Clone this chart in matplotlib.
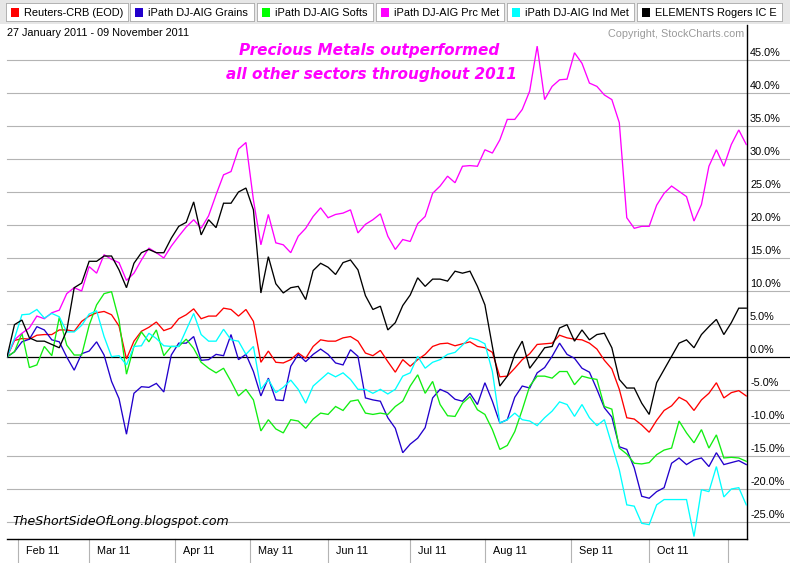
import numpy as np
import pandas as pd
import matplotlib
matplotlib.use('Agg')
import matplotlib.pyplot as plt
from matplotlib.patches import Rectangle
from matplotlib.lines import Line2D
import matplotlib.transforms as mtransforms

# ---------------- data ----------------
start_date, end_date = '2011-01-27', '2011-11-09'
holidays = ['2011-02-21', '2011-04-22', '2011-05-30', '2011-07-04', '2011-09-05']
series_names = ['Reuters-CRB (EOD)', 'iPath DJ-AIG Grains', 'iPath DJ-AIG Softs',
                'iPath DJ-AIG Prc Met', 'iPath DJ-AIG Ind Met', 'ELEMENTS Rogers IC E']
series_colors = ['#ff0000', '#2200cc', '#11ee11', '#ff00ff', '#00ffff', '#000000']
legend_colors = ['#ff0000', '#2200cc', '#00ff00', '#ff00ff', '#00ffff', '#000000']

# percent change, sampled every second trading day
crb = [0, 2.5, 2.8, 2.7, 3.3, 3.4, 3.4, 4.1, 4.1, 3.9,
       5.4, 6.2, 6.7, 6.9, 6.4, 4.7, -0.3, 2.4, 3.9, 4.5,
       5.3, 4.0, 4.4, 5.8, 6.4, 7.3, 5.8, 6.2, 6.2, 7.4,
       7.2, 6.2, 7.2, 5.4, -0.8, 0.9, -0.8, -0.9, -0.4, 0.6,
       -0.2, 1.6, 2.6, 2.4, 2.4, 2.9, 3.1, 2.4, 0.6, 0.2,
       1.0, -0.7, -2.3, -0.4, -1.4, -0.4, 0.4, 1.6, 2.0, 2.1,
       1.7, 2.0, 2.3, 1.6, 1.4, 0.7, -3.0, -2.9, -1.7, -0.4,
       0.5, 1.9, 2.0, 2.1, 3.3, 2.9, 2.7, 2.6, 2.1, 1.2,
       -0.5, -1.8, -4.9, -9.2, -9.4, -10.3, -11.4, -9.6, -8.1, -7.4,
       -6.1, -6.7, -8.1, -6.5, -5.5, -3.9, -6.2, -5.4, -5.1, -5.9]
grains = [0, 0.8, 2.3, 2.7, 4.6, 4.1, 2.6, 2.3, 0.0, -2.0,
          0.5, 0.9, 2.3, 0.3, -3.7, -6.3, -11.7, -5.5, -4.5, -4.6,
          -4.0, -5.3, 0.3, 2.1, 2.1, 3.1, -0.5, -0.4, 0.4, 0.2,
          3.4, -0.4, 0.4, -2.2, -5.9, -3.2, -6.5, -6.6, -1.4, 0.4,
          -0.7, 0.4, 1.2, 0.4, -0.9, -1.2, 1.1, 0.1, -6.2, -6.5,
          -6.7, -9.2, -10.8, -14.5, -13.2, -12.3, -10.7, -6.2, -4.9, -5.4,
          -6.4, -6.7, -5.5, -7.2, -3.9, -6.7, -10.0, -9.5, -6.1, -4.4,
          -4.7, -2.4, -1.6, 0.1, 2.1, 0.4, -0.2, -1.7, -2.3, -4.9,
          -7.7, -9.1, -13.6, -14.0, -16.8, -21.1, -21.4, -20.4, -19.8, -16.1,
          -15.3, -16.3, -15.6, -15.3, -16.6, -14.5, -16.3, -16.0, -15.7, -16.3]
softs = [0, 0.8, 3.6, -1.6, -1.2, 1.6, 0.2, 6.0, 1.8, 0.3,
         0.3, 4.8, 7.9, 9.6, 9.9, 5.6, -2.6, 1.6, 3.8, 2.3,
         4.1, 0.2, 1.6, 1.6, 2.7, 1.3, -0.8, -1.7, -2.4, -1.7,
         -3.7, -5.9, -4.9, -6.5, -11.2, -9.5, -10.9, -11.5, -9.5, -9.7,
         -10.8, -9.4, -8.5, -8.7, -7.5, -8.1, -6.7, -6.5, -8.5, -8.7,
         -8.5, -8.7, -7.5, -6.7, -4.4, -2.7, -5.5, -3.7, -7.2, -8.9,
         -9.0, -7.0, -6.0, -8.0, -8.7, -11.0, -14.0, -13.4, -11.3, -8.0,
         -4.4, -2.9, -2.9, -3.2, -2.2, -2.2, -4.2, -2.9, -3.2, -3.4,
         -7.5, -7.9, -13.8, -14.7, -16.1, -16.2, -16.0, -14.8, -14.1, -13.8,
         -9.7, -11.5, -13.0, -11.0, -13.8, -11.8, -15.3, -15.2, -15.3, -15.8]
prc_met = [0, 2.6, 3.6, 4.4, 6.2, 5.8, 6.7, 7.1, 9.6, 10.5,
           10.0, 13.7, 12.7, 15.5, 14.8, 14.3, 11.6, 12.7, 14.7, 16.5,
           15.8, 15.0, 16.8, 18.3, 19.7, 20.8, 19.5, 21.4, 24.6, 27.6,
           28.1, 31.5, 32.5, 23.8, 17.0, 21.6, 17.3, 17.0, 15.8, 18.3,
           19.5, 21.3, 22.6, 21.1, 21.6, 21.8, 22.3, 18.8, 20.1, 20.8,
           21.7, 18.3, 16.3, 17.8, 17.5, 20.2, 21.3, 24.8, 25.9, 27.4,
           26.4, 28.9, 29.0, 28.9, 31.4, 30.9, 32.9, 36.0, 36.0, 37.5,
           40.3, 47.1, 39.0, 41.0, 42.0, 42.1, 46.1, 44.5, 41.5, 41.0,
           39.7, 39.0, 35.5, 21.1, 19.5, 19.8, 19.8, 23.0, 24.8, 25.9,
           25.1, 24.3, 20.6, 23.1, 28.9, 31.4, 28.9, 32.2, 34.4, 32.2]
ind_met = [0, 2.8, 6.4, 6.5, 7.2, 5.9, 6.6, 6.1, 3.8, 3.8,
           4.8, 6.5, 7.0, 3.1, 0.05, 0.2, -1.2, 1.6, 1.7, 3.6,
           2.8, 1.7, 1.6, 1.6, 4.1, 6.6, 3.4, 2.4, 2.4, 4.2,
           2.6, 2.4, 0.4, 1.6, -4.9, -3.4, -5.4, -4.6, -3.5, -4.9,
           -7.0, -4.4, -3.4, -2.4, -3.0, -2.4, -3.4, -4.9, -4.9, -5.5,
           -4.9, -5.6, -4.9, -2.9, -2.4, 0.1, -1.7, -0.8, -0.4, 0.4,
           0.7, 1.8, 2.9, 2.6, 2.0, -2.2, -10.0, -9.5, -8.5, -9.5,
           -9.7, -10.4, -9.2, -8.2, -6.8, -7.2, -9.0, -7.2, -9.2, -10.4,
           -9.5, -13.3, -17.1, -22.4, -22.6, -25.2, -25.4, -22.4, -21.6, -21.6,
           -21.6, -21.6, -27.2, -20.1, -20.4, -16.6, -21.2, -20.0, -19.8, -22.4]
rogers = [0, 4.9, 5.6, 2.9, 2.4, 2.4, 1.9, 1.4, 4.0, 10.5,
          11.2, 14.5, 14.5, 15.3, 15.3, 13.2, 10.5, 14.2, 15.8, 16.3,
          15.8, 15.8, 18.0, 19.8, 20.4, 23.5, 18.5, 20.8, 19.6, 23.3,
          23.3, 25.0, 25.6, 22.3, 9.7, 15.2, 11.1, 9.7, 10.5, 10.7,
          8.7, 13.1, 14.2, 13.6, 12.5, 14.3, 14.7, 13.2, 9.3, 7.2,
          7.7, 4.1, 5.2, 7.8, 9.4, 12.0, 10.7, 11.8, 11.8, 11.5,
          13.0, 12.7, 13.0, 10.7, 7.9, 1.6, -4.4, -2.9, 0.4, 2.4,
          -1.7, -0.2, 1.4, 1.6, 4.4, 4.9, 2.4, 4.1, 2.6, 3.4,
          3.6, 1.4, -3.4, -4.7, -4.7, -7.0, -8.7, -3.9, -1.9, 0.1,
          2.1, 2.6, 1.4, 3.4, 4.6, 5.7, 3.4, 5.2, 7.4, 7.4]
all_series = [crb, grains, softs, prc_met, ind_met, rogers]

y_ticks = [-25, -20, -15, -10, -5, 0, 5, 10, 15, 20, 25, 30, 35, 40, 45]
date_range_text = '27 January 2011 - 09 November 2011'
copyright_text = 'Copyright, StockCharts.com'
title_lines = ['Precious Metals outperformed', 'all other sectors throughout 2011']
watermark = 'TheShortSideOfLong.blogspot.com'

# ---------------- trading calendar ----------------
days = pd.bdate_range(start_date, end_date)
days = days[~days.isin(pd.to_datetime(holidays))]
step = 2
xs = np.arange(len(crb)) * step
month_starts = [i for i in range(1, len(days)) if days[i].month != days[i - 1].month]

# ---------------- figure ----------------
W, H = 790, 563
fig = plt.figure(figsize=(W / 100, H / 100), dpi=100)
fig.patch.set_facecolor('white')
ui_font = 'Liberation Sans'


def fy(py):
    return 1 - py / H


# top strip
fig.patches.append(Rectangle((0, fy(24)), 1, 24 / H, transform=fig.transFigure,
                             facecolor='#e6e6e6', edgecolor='none', zorder=0))

# axes
ax_left, ax_right, ax_top, ax_bottom = 7, 747, 25, 539
ax = fig.add_axes([ax_left / W, (H - ax_bottom) / H, (ax_right - ax_left) / W,
                   (ax_bottom - ax_top) / H])
ax.set_facecolor('none')
px_per_pct = 6.6
zero_px = 357
ax.set_ylim((zero_px - ax_bottom) / px_per_pct, (zero_px - ax_top) / px_per_pct)
ax.set_xlim(0, 198.2)
for s in ['left', 'top']:
    ax.spines[s].set_visible(False)
ax.spines['right'].set_color('black')
ax.spines['bottom'].set_color('black')
ax.spines['right'].set_linewidth(1.0)
ax.spines['bottom'].set_linewidth(1.0)
ax.set_xticks([])
ax.set_yticks([])

ext = (W - ax_left) / (ax_right - ax_left)
for v in y_ticks:
    ax.axhline(v, xmin=0, xmax=ext, color='black' if v == 0 else '#b4b4b4',
               lw=0.9 if v == 0 else 0.8, clip_on=False, zorder=1 if v else 2)
    ax.annotate(f'{v:.1f}%', xy=(1, v), xycoords=('axes fraction', 'data'),
                xytext=(2.2, 1.2), textcoords='offset points', ha='left', va='bottom',
                fontsize=7.8, family=ui_font, color='black')

for vals, col in zip(all_series, series_colors):
    ax.plot(xs, vals, color=col, lw=0.95, zorder=3, solid_joinstyle='miter')

# month ticks
trans = mtransforms.blended_transform_factory(ax.transData, ax.transAxes)
tick_len = (H - ax_bottom) / (ax_bottom - ax_top)
for m in month_starts:
    ax.add_line(Line2D([m, m], [0, -tick_len], transform=trans, color='#b4b4b4',
                       lw=0.8, clip_on=False))
    if m + 8 < 198:
        ax.annotate(days[m].strftime('%b %y'), xy=(m, 0), xycoords=trans,
                    xytext=(5.8, -9), textcoords='offset points', ha='left', va='center',
                    fontsize=7.8, family=ui_font)

# texts
fig.text(7 / W, fy(33), date_range_text, ha='left', va='center', fontsize=7.8, family=ui_font)
fig.text(744 / W, fy(34), copyright_text, ha='right', va='center', fontsize=7.8,
         family=ui_font, color='#9a9a9a')
fig.text(369 / W, fy(50), title_lines[0], ha='center', va='center', fontsize=11,
         family='DejaVu Sans', style='oblique', weight='bold', color='#ff00ff')
fig.text(372 / W, fy(75), title_lines[1], ha='center', va='center', fontsize=11,
         family='DejaVu Sans', style='oblique', weight='bold', color='#ff00ff')
fig.text(12 / W, fy(522), watermark, ha='left', va='center', fontsize=9,
         family='DejaVu Sans', style='oblique', color='black')

# legend buttons
boxes = [(6, 128), (130, 254), (257, 373), (376, 504), (507, 634), (637, 782)]
for (x0, x1), name, col in zip(boxes, series_names, legend_colors):
    fig.patches.append(Rectangle((x0 / W, fy(22)), (x1 - x0 + 1) / W, 19 / H,
                                 transform=fig.transFigure, facecolor='#8a8a8a',
                                 edgecolor='none', zorder=1))
    fig.patches.append(Rectangle((x0 / W, fy(21)), (x1 - x0) / W, 18 / H,
                                 transform=fig.transFigure, facecolor='white',
                                 edgecolor='#b0b0b0', lw=0.6, zorder=2))
    fig.patches.append(Rectangle(((x0 + 5) / W, fy(16.5)), 8 / W, 8 / H,
                                 transform=fig.transFigure, facecolor=col,
                                 edgecolor='none', zorder=3))
    fig.text((x0 + 18) / W, fy(12.5), name, ha='left', va='center', fontsize=7.9,
             family=ui_font, zorder=4)

fig.savefig('out.png', dpi=100)
